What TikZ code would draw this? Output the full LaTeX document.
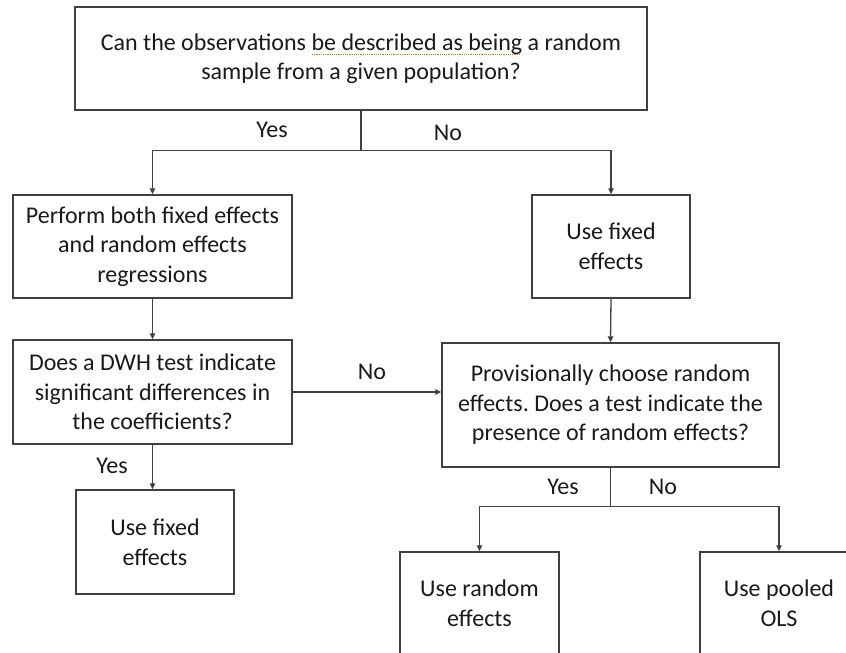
\documentclass[tikz,border=0pt]{standalone}
\usepackage{fontspec}
\setmainfont{Carlito}
\frenchspacing
\usetikzlibrary{arrows.meta,calc}
\definecolor{linec}{HTML}{404040}
\definecolor{textc}{HTML}{1A1A1A}
\definecolor{spell}{HTML}{C08020}
\newcommand\spellul[1]{\setbox0=\hbox{#1}\rlap{\color{spell}\raisebox{-5pt}{\hbox to \wd0{\leaders\hbox to 2.2pt{\hss\rule{1.1pt}{1.1pt}\hss}\hfill}}}#1}
\tikzset{
  box/.style={draw=linec, line width=1.4pt, align=center, inner sep=0pt, text=textc,
    font=\fontsize{24}{29.5}\selectfont},
  lbl/.style={text=textc, font=\fontsize{24}{29.5}\selectfont, inner sep=0pt},
  conn/.style={draw=linec, line width=1.3pt},
  arr/.style={conn, -{Triangle[length=6pt,width=5.5pt]}}
}
\begin{document}
\begin{tikzpicture}[x=1pt,y=-1pt]
\useasboundingbox (0,0) rectangle (846,653);
\clip (0,0) rectangle (846,653);
\fill[white] (0,0) rectangle (846,653);
\node[box, minimum width=572pt, minimum height=103pt] (q1) at (361,58.5)
  {Can the observations \spellul{be described as being} a random\\ sample from a given population?};
\node[box, minimum width=279pt, minimum height=103pt] (perf) at (152.5,246.5)
  {Perform both fixed effects\\ and random effects\\ regressions};
\node[box, minimum width=158pt, minimum height=103pt] (fe1) at (611,246.5)
  {Use fixed\\ effects};
\node[box, minimum width=279pt, minimum height=104pt] (dwh) at (152.5,392)
  {Does a DWH test indicate\\ significant differences in\\ the coefficients?};
\node[box, minimum width=337pt, minimum height=124pt] (prov) at (610.5,405)
  {Provisionally choose random\\ effects. Does a test indicate the\\ presence of random effects?};
\node[box, minimum width=158pt, minimum height=104pt] (fe2) at (155,542)
  {Use fixed\\ effects};
\node[box, minimum width=159pt, minimum height=102pt] (re) at (479.5,603)
  {Use random\\ effects};
\node[box, minimum width=158pt, minimum height=102pt] (ols) at (779,603)
  {Use pooled\\ OLS};
% connectors
\coordinate (s1) at ($(q1.south)+(0,40)$);
\draw[conn] (q1.south) -- (s1);
\draw[arr] (s1) -| (perf.north);
\draw[arr] (s1) -| (fe1.north);
\draw[arr] (perf.south) -- (dwh.north);
\draw[arr] (fe1.south) -- (prov.north);
\draw[arr] (dwh.east) -- (dwh.east -| prov.west);
\draw[arr] (dwh.south) -- (dwh.south |- fe2.north);
\coordinate (s2) at ($(prov.south)+(0,39)$);
\draw[conn] (prov.south) -- (s2);
\draw[arr] (s2) -| (re.north);
\draw[arr] (s2) -| (ols.north);
% labels
\node[lbl] (l1) at (272,130) {Yes};
\node[lbl] (l2) at (448,133) {No};
\node[lbl] (l3) at (372,372) {No};
\node[lbl] (l4) at (112,466) {Yes};
\node[lbl] (l5) at (563,487) {Yes};
\node[lbl] (l6) at (663,487) {No};
\end{tikzpicture}
\end{document}
